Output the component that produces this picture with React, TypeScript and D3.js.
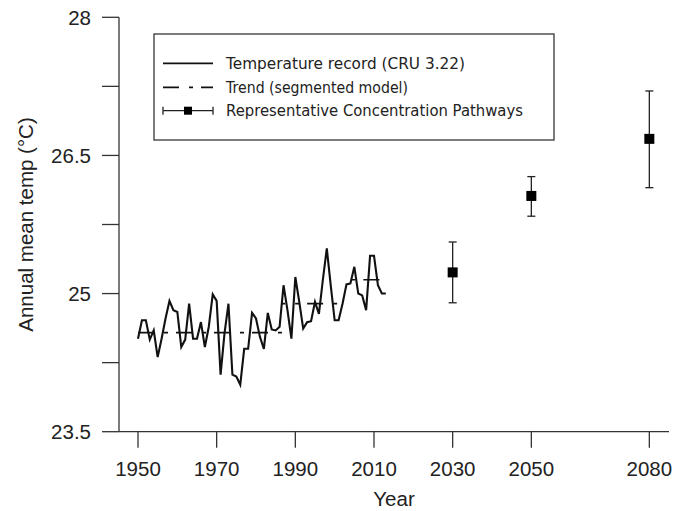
import React from 'react';
import * as d3 from 'd3';

const recordYears = [
  1950, 1951, 1952, 1953, 1954, 1955, 1956, 1957, 1958, 1959,
  1960, 1961, 1962, 1963, 1964, 1965, 1966, 1967, 1968, 1969,
  1970, 1971, 1972, 1973, 1974, 1975, 1976, 1977, 1978, 1979,
  1980, 1981, 1982, 1983, 1984, 1985, 1986, 1987, 1988, 1989,
  1990, 1991, 1992, 1993, 1994, 1995, 1996, 1997, 1998, 1999,
  2000, 2001, 2002, 2003, 2004, 2005, 2006, 2007, 2008, 2009,
  2010, 2011, 2012, 2013,
];
const recordTemps = [
  24.51, 24.71, 24.71, 24.5, 24.6, 24.31, 24.51, 24.73, 24.92, 24.82,
  24.8, 24.42, 24.5, 24.89, 24.51, 24.51, 24.69, 24.42, 24.64, 24.99,
  24.92, 24.12, 24.57, 24.89, 24.12, 24.1, 24.01, 24.4, 24.4, 24.79,
  24.73, 24.53, 24.4, 24.79, 24.61, 24.6, 24.64, 25.09, 24.82, 24.51,
  25.18, 24.91, 24.62, 24.69, 24.7, 24.91, 24.78, 25.15, 25.49, 25.09,
  24.71, 24.71, 24.89, 25.1, 25.11, 25.29, 25.0, 24.98, 24.82, 25.41,
  25.41, 25.09, 25.0, 25.0,
];

const trendStart = [1950, 1986.6, 2002];
const trendEnd = [1986.6, 2001, 2012];
const trendValue = [24.575, 24.89, 25.15];
const trendDashPhaseYear = [1950, 1993, 2007.3];

const rcpYears = [2030, 2050, 2080];
const rcpMean = [25.23, 26.06, 26.68];
const rcpLow = [24.9, 25.84, 26.15];
const rcpHigh = [25.56, 26.27, 27.2];

const xTicks = [1950, 1970, 1990, 2010, 2030, 2050, 2080];
const yTicks = [23.5, 25, 26.5, 28];
const yMinorTicks = [24.25, 25.75, 27.25];

const legendLabels = [
  'Temperature record (CRU 3.22)',
  'Trend (segmented model)',
  'Representative Concentration Pathways',
];

const W = 688;
const H = 511;
const axisColor = '#333';
const tickFont = '"Liberation Sans", Arial, sans-serif';
const legendFont = '"DejaVu Sans", Verdana, sans-serif';

export default function App() {
  const x = d3.scaleLinear().domain([1945.17, 2085]).range([119, 669]);
  const y = d3.scaleLinear().domain([23.5, 28]).range([431.7, 17.3]);

  const line = d3
    .line<number>()
    .x((_, i) => x(recordYears[i]))
    .y((d) => y(d));

  const dashParts = [16, 10, 4, 8];
  const dash = dashParts.join(',');
  const period = d3.sum(dashParts);

  const legendX0 = 163;
  const legendX1 = 213;
  const legendRows = [63.3, 87.3, 110.7];
  const legendWidths = [239, 182, 297];

  return (
    <svg
      width={W}
      height={H}
      style={{ position: 'absolute', left: 0, top: 0, background: '#fff' }}
    >
      <rect x={0} y={0} width={W} height={H} fill="#fff" />

      {/* axes */}
      <line x1={119} x2={119} y1={y(28)} y2={y(23.5)} stroke={axisColor} strokeWidth={1.3} />
      <line x1={119} x2={669} y1={y(23.5)} y2={y(23.5)} stroke={axisColor} strokeWidth={1.3} />

      {yTicks.map((t) => (
        <g key={'yt' + t}>
          <line x1={102} x2={119} y1={y(t)} y2={y(t)} stroke={axisColor} strokeWidth={1.3} />
          <text
            x={91}
            y={y(t)}
            dy="0.36em"
            textAnchor="end"
            fontFamily={tickFont}
            fontSize={20.5}
            fill="#222"
          >
            {t}
          </text>
        </g>
      ))}
      {yMinorTicks.map((t) => (
        <line key={'ym' + t} x1={102} x2={119} y1={y(t)} y2={y(t)} stroke={axisColor} strokeWidth={1.3} />
      ))}

      {xTicks.map((t) => (
        <g key={'xt' + t}>
          <line x1={x(t)} x2={x(t)} y1={y(23.5)} y2={y(23.5) + 16} stroke={axisColor} strokeWidth={1.3} />
          <text
            x={x(t)}
            y={476}
            textAnchor="middle"
            fontFamily={tickFont}
            fontSize={20.5}
            fill="#222"
          >
            {t}
          </text>
        </g>
      ))}

      <text
        x={394}
        y={506}
        textAnchor="middle"
        fontFamily={tickFont}
        fontSize={20.5}
        fill="#222"
      >
        Year
      </text>
      <text
        transform={`translate(33, ${(y(28) + y(23.5)) / 2}) rotate(-90)`}
        textAnchor="middle"
        fontFamily={tickFont}
        fontSize={20.5}
        fill="#222"
      >
        Annual mean temp (°C)
      </text>

      {/* trend */}
      {trendValue.map((v, i) => {
        const raw = x(trendStart[i]) - x(trendDashPhaseYear[i]);
        const offset = ((raw % period) + period) % period;
        return (
          <line
            key={'tr' + i}
            x1={x(trendStart[i])}
            x2={x(trendEnd[i])}
            y1={y(v)}
            y2={y(v)}
            stroke="#111"
            strokeWidth={1.7}
            strokeDasharray={dash}
            strokeDashoffset={offset}
          />
        );
      })}

      {/* temperature record */}
      <path d={line(recordTemps) || ''} fill="none" stroke="#111" strokeWidth={2.1} strokeLinejoin="miter" />

      {/* RCP */}
      {rcpYears.map((yr, i) => (
        <g key={'rcp' + yr}>
          <line x1={x(yr)} x2={x(yr)} y1={y(rcpHigh[i])} y2={y(rcpLow[i])} stroke="#222" strokeWidth={1.3} />
          <line x1={x(yr) - 4} x2={x(yr) + 4} y1={y(rcpHigh[i])} y2={y(rcpHigh[i])} stroke="#222" strokeWidth={1.3} />
          <line x1={x(yr) - 4} x2={x(yr) + 4} y1={y(rcpLow[i])} y2={y(rcpLow[i])} stroke="#222" strokeWidth={1.3} />
          <rect x={x(yr) - 5} y={y(rcpMean[i]) - 5} width={10} height={10} fill="#000" />
        </g>
      ))}

      {/* legend */}
      <rect x={154} y={34} width={400} height={106} fill="#fff" stroke="#444" strokeWidth={1.4} />
      <line x1={legendX0} x2={legendX1} y1={legendRows[0]} y2={legendRows[0]} stroke="#111" strokeWidth={1.8} />
      <line
        x1={legendX0}
        x2={legendX1}
        y1={legendRows[1]}
        y2={legendRows[1]}
        stroke="#111"
        strokeWidth={1.8}
        strokeDasharray={dash}
      />
      <line x1={legendX0} x2={legendX1} y1={legendRows[2]} y2={legendRows[2]} stroke="#222" strokeWidth={1.3} />
      <line x1={legendX0} x2={legendX0} y1={legendRows[2] - 4} y2={legendRows[2] + 4} stroke="#222" strokeWidth={1.3} />
      <line x1={legendX1} x2={legendX1} y1={legendRows[2] - 4} y2={legendRows[2] + 4} stroke="#222" strokeWidth={1.3} />
      <rect x={(legendX0 + legendX1) / 2 - 4} y={legendRows[2] - 4} width={8} height={8} fill="#000" />

      {legendLabels.map((lab, i) => (
        <text
          key={lab}
          x={226}
          y={legendRows[i]}
          dy="0.36em"
          fontFamily={legendFont}
          fontSize={15}
          fill="#222"
          textLength={legendWidths[i]}
          lengthAdjust="spacingAndGlyphs"
        >
          {lab}
        </text>
      ))}
    </svg>
  );
}
